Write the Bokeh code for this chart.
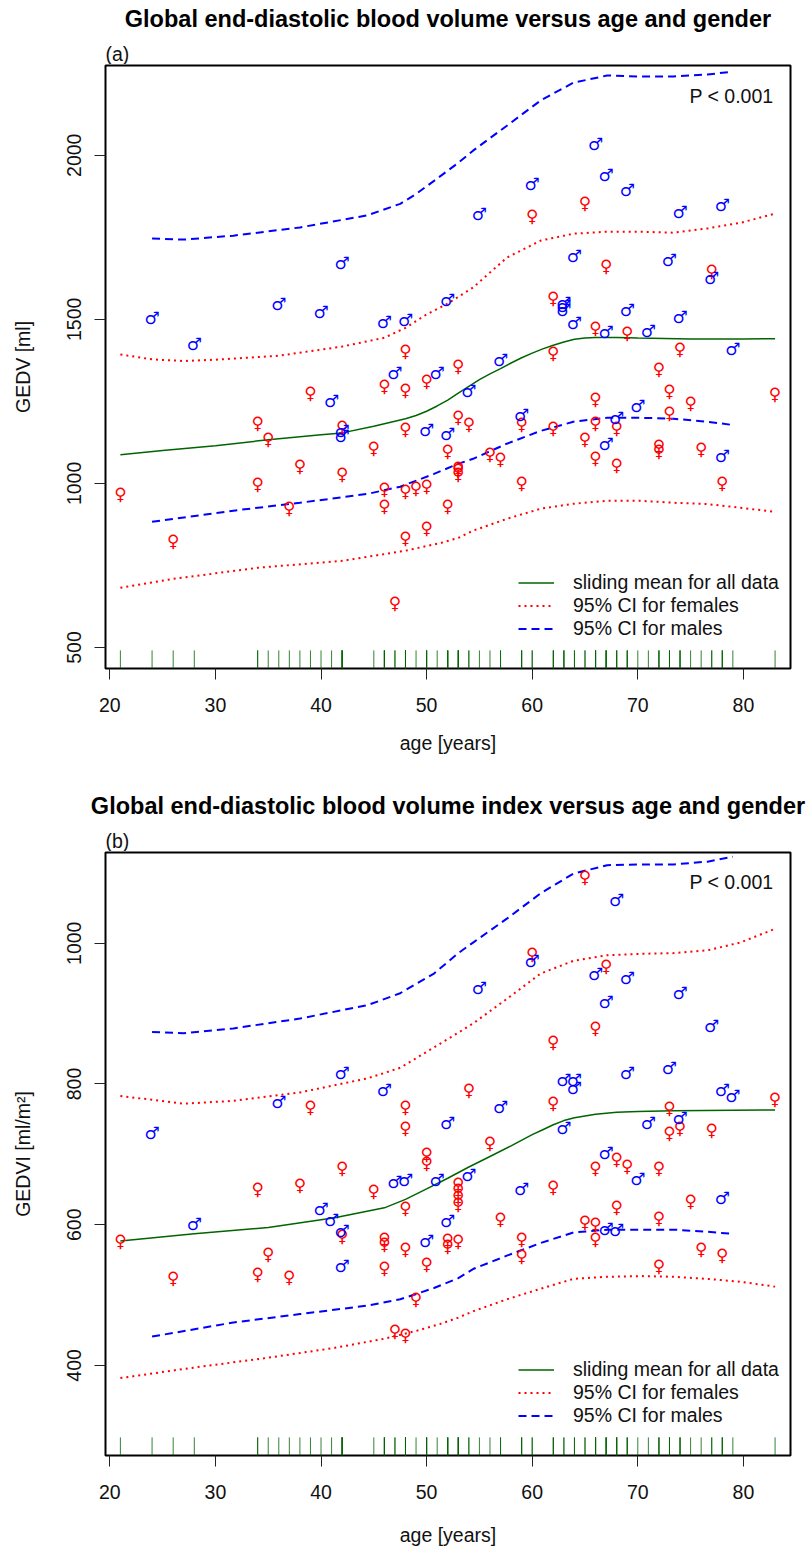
from bokeh.plotting import figure
from bokeh.models import Range1d, Label, Legend, LegendItem, FixedTicker, ColumnDataSource, Title
from bokeh.layouts import column
from bokeh.embed import file_html
from bokeh.resources import INLINE
from bokeh.core.properties import value

FONT = "Liberation Sans"
SYMFONT = "DejaVu Sans"
RED = "#FF0000"
BLUE = "#0000FF"
GREEN = "#006400"

# ---------------- panel (a): GEDV ----------------
a_fem_age = [65, 60, 67, 77, 62, 66, 69, 74, 62, 53, 72, 48, 73, 83, 66, 75, 39, 46, 48, 50,
             53, 54, 59, 62, 66, 68, 73, 34, 35, 42, 45, 48, 52, 56, 57, 65, 66, 68, 72, 72,
             76, 53, 53, 53, 59, 78, 52, 21, 34, 38, 42, 37, 46, 46, 48, 49, 50, 26, 48, 50, 47]
a_fem_val = [1853, 1816, 1664, 1648, 1566, 1475, 1457, 1410, 1398, 1358, 1350, 1405, 1282, 1273,
             1258, 1246, 1276, 1298, 1285, 1313, 1203, 1182, 1182, 1170, 1185, 1170, 1216, 1185,
             1136, 1172, 1109, 1166, 1100, 1090, 1075, 1136, 1078, 1057, 1115, 1100, 1105, 1048,
             1040, 1030, 1002, 1002, 932, 968, 998, 1054, 1030, 926, 984, 932, 978, 987, 992,
             825, 834, 865, 636]
a_mal_age = [24, 28, 36, 40, 42, 41, 42, 42, 46, 48, 47, 50, 51, 52, 52, 54, 55, 57, 59, 60, 63,
             63, 63, 64, 64, 66, 67, 67, 67, 68, 69, 69, 70, 71, 73, 74, 74, 77, 78, 78, 79]
a_mal_val = [1505, 1425, 1547, 1522, 1672, 1252, 1160, 1145, 1493, 1499, 1337, 1163, 1337, 1152,
             1560, 1282, 1822, 1377, 1210, 1913, 1550, 1540, 1528, 1693, 1490, 2035, 1940, 1460,
             1120, 1200, 1895, 1527, 1237, 1465, 1682, 1828, 1508, 1627, 1849, 1084, 1410]

a_mean_age = [21, 25, 30, 35, 40, 42, 45, 48, 49, 50, 51, 52, 53, 54, 55, 56, 57, 58, 59, 60,
              61, 62, 63, 64, 65, 66, 68, 70, 75, 80, 83]
a_mean_val = [1087, 1100, 1115, 1133, 1148, 1154, 1174, 1197, 1207, 1220, 1236, 1254, 1275, 1296,
              1316, 1334, 1350, 1367, 1383, 1397, 1410, 1421, 1431, 1439, 1443, 1445, 1445, 1443,
              1440, 1440, 1441]
a_fhi_age = [21, 24, 27, 30, 36, 42, 46, 48, 50, 52, 54.4, 57.6, 60.8, 63.9, 67.1, 70.3, 73.4, 76.6, 79.7, 83]
a_fhi_val = [1393, 1378, 1373, 1377, 1389, 1417, 1444, 1474, 1515, 1548, 1597, 1688, 1740, 1761,
             1767, 1767, 1764, 1777, 1794, 1822]
a_flo_age = [21, 26, 34, 42, 48, 51.4, 53, 54.4, 57.6, 60.8, 63.9, 67.1, 70.3, 73.4, 76.6, 79.7, 82.8]
a_flo_val = [682, 709, 743, 764, 795, 819, 834, 856, 892, 923, 938, 947, 947, 941, 937, 926, 914]
a_mhi_age = [24, 27, 31.7, 38, 44.4, 47.5, 49, 50.7, 53, 54.4, 57.6, 60.8, 63.9, 67.1, 70.3, 73.4, 76.6, 79]
a_mhi_val = [1746, 1743, 1755, 1780, 1817, 1852, 1882, 1922, 1977, 2014, 2090, 2167, 2221, 2243,
             2240, 2240, 2246, 2255]
a_mlo_age = [24, 31.7, 38, 44.4, 47.5, 50.7, 53, 54.4, 57.6, 60.8, 63.9, 67.1, 70.3, 73.4, 76.6, 79]
a_mlo_val = [883, 917, 941, 968, 990, 1029, 1060, 1075, 1121, 1160, 1188, 1200, 1200, 1197, 1188, 1178]

# ---------------- panel (b): GEDVI ----------------
b_fem_age = [65, 60, 67, 66, 62, 54, 83, 62, 73, 39, 48, 48, 73, 74, 77, 56, 68, 69, 66, 72, 50,
             50, 42, 34, 38, 45, 53, 53, 53, 53, 62, 75, 68, 48, 57, 65, 66, 72, 52, 52, 53, 59,
             66, 59, 76, 78, 72, 21, 42, 46, 46, 46, 48, 35, 26, 34, 37, 50, 49, 47, 48]
b_fem_val = [1094, 985, 968, 880, 860, 791, 779, 773, 766, 767, 767, 738, 731, 737, 734, 716, 694,
             684, 680, 681, 701, 687, 681, 651, 656, 648, 658, 650, 640, 630, 653, 634, 625, 624,
             608, 604, 601, 610, 578, 570, 577, 580, 580, 556, 566, 557, 541, 577, 584, 580, 572,
             539, 566, 558, 524, 530, 525, 544, 494, 449, 443]
b_mal_age = [68, 60, 66, 69, 55, 74, 67, 77, 42, 36, 46, 24, 52, 69, 73, 63, 64, 64, 78, 79, 57,
             71, 74, 63, 67, 54, 70, 59, 78, 52, 67, 68, 47, 48, 51, 40, 41, 28, 42, 50, 42]
b_mal_val = [1061, 975, 957, 951, 936, 929, 916, 883, 815, 774, 792, 731, 744, 815, 823, 805, 806,
             795, 792, 783, 768, 745, 752, 738, 702, 670, 665, 651, 638, 605, 594, 593, 660, 663,
             663, 623, 607, 601, 591, 577, 541]

b_mean_age = [21, 28, 35, 41.3, 46, 48, 50, 52, 54, 56, 58, 60, 61, 62, 63, 64, 66, 68, 70, 73.4, 83]
b_mean_val = [577, 587, 596, 610, 624, 636, 651, 666, 682, 697, 712, 728, 735, 742, 748, 752, 757,
              760, 761, 762, 763]
b_fhi_age = [21, 27, 31.7, 38, 44.4, 47.5, 50.7, 53, 54.4, 57.6, 60.8, 63.9, 67.1, 70.3, 73.4, 76.6, 79.7, 82.9]
b_fhi_val = [783, 772, 776, 788, 808, 823, 852, 873, 886, 921, 957, 975, 983, 985, 986, 990, 1001, 1020]
b_flo_age = [21, 27, 35, 41.3, 46, 49, 51.3, 53, 54.4, 57.6, 60.8, 63.9, 67.1, 70.3, 73.4, 76.6, 79.7, 83]
b_flo_val = [382, 395, 411, 425, 438, 449, 459, 468, 477, 494, 509, 523, 526, 527, 526, 523, 519, 512]
b_mhi_age = [24, 27, 31.7, 38, 44.4, 47.5, 50.7, 53, 54.4, 57.6, 60.8, 63.9, 67.1, 70.3, 73.4, 76.6, 79]
b_mhi_val = [874, 872, 879, 893, 912, 929, 957, 986, 1001, 1035, 1071, 1099, 1111, 1112, 1112, 1116, 1123]
b_mlo_age = [24, 31.7, 38, 44.4, 47.5, 50.7, 53, 54.4, 57.6, 60.8, 63.9, 67.1, 70.3, 73.4, 76.6, 79]
b_mlo_val = [441, 461, 473, 485, 494, 510, 524, 537, 556, 574, 589, 593, 593, 593, 590, 587]

x_ticks = [20, 30, 40, 50, 60, 70, 80]
a_y_ticks = [500, 1000, 1500, 2000]
b_y_ticks = [400, 600, 800, 1000]

titles = ["Global end-diastolic blood volume versus age and gender",
          "Global end-diastolic blood volume index versus age and gender"]
tags = ["(a)", "(b)"]
ylabels = ["GEDV [ml]", "GEDVI [ml/m\u00b2]"]
legend_labels = ["sliding mean for all data", "95% CI for females", "95% CI for males"]

FS = "19.5px"
W = 808


def make_header(title, tag, height, standoff):
    # strip above each panel: bold title in its own title panel, tag in the strip's frame
    h = figure(width=W, height=height, x_range=Range1d(0, 1), y_range=Range1d(0, 1),
               x_axis_type=None, y_axis_type=None, output_backend="svg",
               toolbar_location=None, min_border_left=105, min_border_right=18,
               min_border_top=0, min_border_bottom=0)
    h.grid.visible = False
    h.outline_line_color = None
    h.background_fill_color = "white"
    h.border_fill_color = "white"
    h.add_layout(Title(text=title, text_font=FONT, text_font_size="23.5px",
                       text_font_style="bold", align="center", vertical_align="middle",
                       standoff=standoff, text_color="black"), "above")
    h.add_layout(Label(x=0, y=0, text=tag, text_font=FONT, text_font_size=FS,
                       text_align="left", text_baseline="bottom", text_color="#111111"))
    return h


def make_panel(ylabel, yr, yticks, p_y, fem, mal, curves, height, bottom, xlab_standoff):
    p = figure(width=W, height=height, x_range=Range1d(19.59, 84.46), y_range=Range1d(*yr),
               output_backend="svg", toolbar_location=None,
               min_border_left=105, min_border_right=18, min_border_top=1,
               min_border_bottom=bottom)
    p.grid.visible = False
    p.outline_line_color = "black"
    p.outline_line_width = 2
    p.background_fill_color = "white"
    p.border_fill_color = "white"

    for ax in (p.xaxis[0], p.yaxis[0]):
        ax.axis_line_color = None
        ax.major_tick_line_color = "#222222"
        ax.major_tick_line_width = 1
        ax.major_tick_out = 11
        ax.major_tick_in = 0
        ax.minor_tick_line_color = None
        ax.major_label_text_font = FONT
        ax.major_label_text_font_size = FS
        ax.major_label_text_color = "#111111"
        ax.axis_label_text_font = FONT
        ax.axis_label_text_font_size = FS
        ax.axis_label_text_font_style = "normal"
        ax.axis_label_text_color = "#111111"
    p.xaxis[0].ticker = FixedTicker(ticks=x_ticks)
    p.yaxis[0].ticker = FixedTicker(ticks=yticks)
    p.xaxis[0].axis_label = "age [years]"
    p.yaxis[0].axis_label = ylabel
    p.xaxis[0].major_label_standoff = 18
    p.xaxis[0].axis_label_standoff = xlab_standoff
    p.yaxis[0].major_label_orientation = "vertical"
    p.yaxis[0].major_label_standoff = 13
    p.yaxis[0].axis_label_standoff = 31

    # rug of ages
    ylo, yhi = yr
    rug = list(fem[0]) + list(mal[0])
    p.segment(x0=rug, y0=[ylo] * len(rug), x1=rug, y1=[ylo + 0.03 * (yhi - ylo)] * len(rug),
              line_color=GREEN, line_width=1, line_alpha=0.8)

    # curves
    mean, fhi, flo, mhi, mlo = curves
    r_mean = p.line(mean[0], mean[1], line_color=GREEN, line_width=1.5)
    r_f = p.line(fhi[0], fhi[1], line_color=RED, line_width=2, line_dash="2 4")
    p.line(flo[0], flo[1], line_color=RED, line_width=2, line_dash="2 4")
    r_m = p.line(mhi[0], mhi[1], line_color=BLUE, line_width=2, line_dash="8 5")
    p.line(mlo[0], mlo[1], line_color=BLUE, line_width=2, line_dash="8 5")

    # points as gender symbols
    fsrc = ColumnDataSource(dict(x=fem[0], y=fem[1], t=["\u2640"] * len(fem[0])))
    msrc = ColumnDataSource(dict(x=mal[0], y=mal[1], t=["\u2642"] * len(mal[0])))
    p.text(x="x", y="y", text="t", source=fsrc, text_color=RED, text_font=value(SYMFONT),
           text_font_size="17px", text_align="center", text_baseline="middle")
    p.text(x="x", y="y", text="t", source=msrc, text_color=BLUE, text_font=value(SYMFONT),
           text_font_size="17px", text_align="center", text_baseline="middle")

    legend = Legend(items=[LegendItem(label=legend_labels[0], renderers=[r_mean]),
                           LegendItem(label=legend_labels[1], renderers=[r_f]),
                           LegendItem(label=legend_labels[2], renderers=[r_m])],
                    location=(413, 28), orientation="vertical",
                    border_line_color=None, background_fill_alpha=0,
                    padding=0, margin=0, spacing=0, glyph_width=36, glyph_height=23,
                    label_height=23, label_standoff=19,
                    label_text_font=FONT, label_text_font_size=FS,
                    label_text_color="#111111")
    p.add_layout(legend, "center")

    p.add_layout(Label(x=82.85, y=p_y, text="P < 0.001", text_font=FONT, text_font_size=FS,
                       text_align="right", text_baseline="middle", text_color="#111111"))
    return p


ha = make_header(titles[0], tags[0], 64, 8)
pa = make_panel(ylabels[0], (436, 2273.5), a_y_ticks, 2182,
                (a_fem_age, a_fem_val), (a_mal_age, a_mal_val),
                [(a_mean_age, a_mean_val), (a_fhi_age, a_fhi_val), (a_flo_age, a_flo_val),
                 (a_mhi_age, a_mhi_val), (a_mlo_age, a_mlo_val)],
                727, 123, 17)
hb = make_header(titles[1], tags[1], 60, 0)
pb = make_panel(ylabels[1], (272, 1129), b_y_ticks, 1087,
                (b_fem_age, b_fem_val), (b_mal_age, b_mal_val),
                [(b_mean_age, b_mean_val), (b_fhi_age, b_fhi_val), (b_flo_age, b_flo_val),
                 (b_mhi_age, b_mhi_val), (b_mlo_age, b_mlo_val)],
                697, 93, 22)

layout = column(ha, pa, hb, pb, spacing=0)
open("out.html", "w").write(file_html(layout, INLINE))
